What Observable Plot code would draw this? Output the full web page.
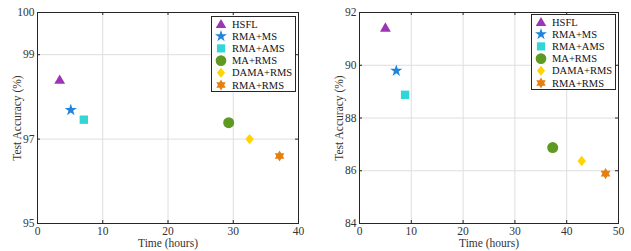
<!DOCTYPE html>
<html><head><meta charset="utf-8">
<script src="https://cdn.jsdelivr.net/npm/d3@7"></script>
<script src="https://cdn.jsdelivr.net/npm/@observablehq/plot@0.6"></script>
<style>
body{margin:0;background:#fff;}
#wrap{display:flex;width:631px;height:251px;overflow:hidden;}
#wrap svg{display:block;flex:none;}
</style></head><body><div id="wrap"></div>
<script>
const methods = ["HSFL","RMA+MS","RMA+AMS","MA+RMS","DAMA+RMS","RMA+RMS"];
const timeA = [3.4, 5.1, 7.1, 29.3, 32.5, 37.1];
const accA = [98.41, 97.69, 97.46, 97.39, 97.0, 96.6];
const timeB = [5.0, 7.1, 8.8, 37.3, 42.9, 47.5];
const accB = [91.43, 89.79, 88.88, 86.88, 86.37, 85.89];
const xTicksA = [0,10,20,30,40];
const yTicksA = [95,97,99,100];
const xTicksB = [0,10,20,30,40,50];
const yTicksB = [84,86,88,90,92];

const colors = ["#9b35b5","#1f84dc","#33d6d6","#5e9a22","#ffd400","#e58010"];

function poly(pts){ return {draw(ctx,size){ const k=Math.sqrt(size/Math.PI)/5; pts.forEach(([x,y],i)=> i? ctx.lineTo(x*k,y*k): ctx.moveTo(x*k,y*k)); ctx.closePath(); }}; }
function star(n, R, r0){ const pts=[]; for(let i=0;i<2*n;i++){const a=-Math.PI/2+i*Math.PI/n; const rr=i%2?r0:R; pts.push([rr*Math.cos(a), rr*Math.sin(a)]);} return poly(pts);}
const triangle = poly([[0,-5.2],[5.4,4.2],[-5.4,4.2]]);
const pentagram = star(5, 6.4, 6.4*0.382);
const square = poly([[-4.2,-4.2],[4.2,-4.2],[4.2,4.2],[-4.2,4.2]]);
const circle = {draw(ctx,size){const k=Math.sqrt(size/Math.PI)/5; ctx.moveTo(5.5*k,0); ctx.arc(0,0,5.5*k,0,2*Math.PI);}};
const diamond = poly([[0,-5.2],[4.2,0],[0,5.2],[-4.2,0]]);
const hexagram = star(6, 5.6, 5.6/Math.sqrt(3));
const symbols = [triangle,pentagram,square,circle,diamond,hexagram];

const FONT = "'Liberation Serif', 'DejaVu Serif', serif";
const INK = "#262626";

function chart(times, accs, xt, yt, W, ml, mr, xdom, ydom, legTop) {
  const H = 251, mt = 12, mb = 28;
  const iw = W - ml - mr, ih = H - mt - mb;
  const data = methods.map((m,i)=>({method:m, time:times[i], acc:accs[i]}));
  const svg = Plot.plot({
    width: W, height: H, marginLeft: ml, marginRight: mr, marginTop: mt, marginBottom: mb,
    style: {fontFamily: FONT, fontSize: "11.5px", color: "#333", background: "white", overflow: "visible"},
    x: {domain: xdom},
    y: {domain: ydom},
    color: {domain: methods, range: colors},
    symbol: {domain: methods, range: symbols},
    marks: [
      Plot.gridX(xt, {stroke: "#dedede", strokeOpacity: 1}),
      Plot.gridY(yt, {stroke: "#dedede", strokeOpacity: 1}),
      Plot.tickX(xt, {x: d=>d, insetTop: ih-3, stroke: INK}),
      Plot.tickX(xt, {x: d=>d, insetBottom: ih-3, stroke: INK}),
      Plot.tickY(yt, {y: d=>d, insetRight: iw-3, stroke: INK}),
      Plot.tickY(yt, {y: d=>d, insetLeft: iw-3, stroke: INK}),
      Plot.frame({stroke: INK}),
      Plot.axisX(xt, {tickSize: 0, tickPadding: 3, label: "Time (hours)", labelAnchor: "center", labelArrow: "none", labelOffset: 23}),
      Plot.axisY(yt, {tickSize: 0, tickPadding: 3, label: "Test Accuracy (%)", labelAnchor: "center", labelArrow: "none", labelOffset: 25}),
      Plot.dot(data, {x: "time", y: "acc", fill: "method", symbol: "method", r: 5, stroke: "none"})
    ]
  });
  // legend box (MATLAB style)
  const bw = 84, bh = 75;
  const bx = W - mr - bw - 3, by = legTop;
  const g = d3.select(svg).append("g").attr("text-anchor", "start")
    .style("font-family", FONT).style("font-size", "10.5px");
  g.append("rect").attr("x", bx+0.5).attr("y", by+0.5).attr("width", bw).attr("height", bh)
    .attr("fill", "white").attr("stroke", INK).attr("stroke-width", 1);
  methods.forEach((m, i) => {
    const cy = by + 8 + i * 12.2;
    const p = d3.path();
    symbols[i].draw(p, Math.PI * 25 * 0.95);
    g.append("path").attr("d", p.toString()).attr("transform", `translate(${bx+10},${cy})`).attr("fill", colors[i]);
    g.append("text").attr("x", bx + 21).attr("y", cy).attr("dy", "0.35em")
      .style("text-anchor", "start").style("font-family", FONT).style("font-size", "10.5px")
      .attr("fill", "#111").text(m);
  });
  return svg;
}

const wrap = document.getElementById("wrap");
wrap.appendChild(chart(timeA, accA, xTicksA, yTicksA, 320, 37, 22, [0,40], [95,100], 16));
wrap.appendChild(chart(timeB, accB, xTicksB, yTicksB, 311, 39, 13, [0,50], [84,92], 14));
</script></body></html>
